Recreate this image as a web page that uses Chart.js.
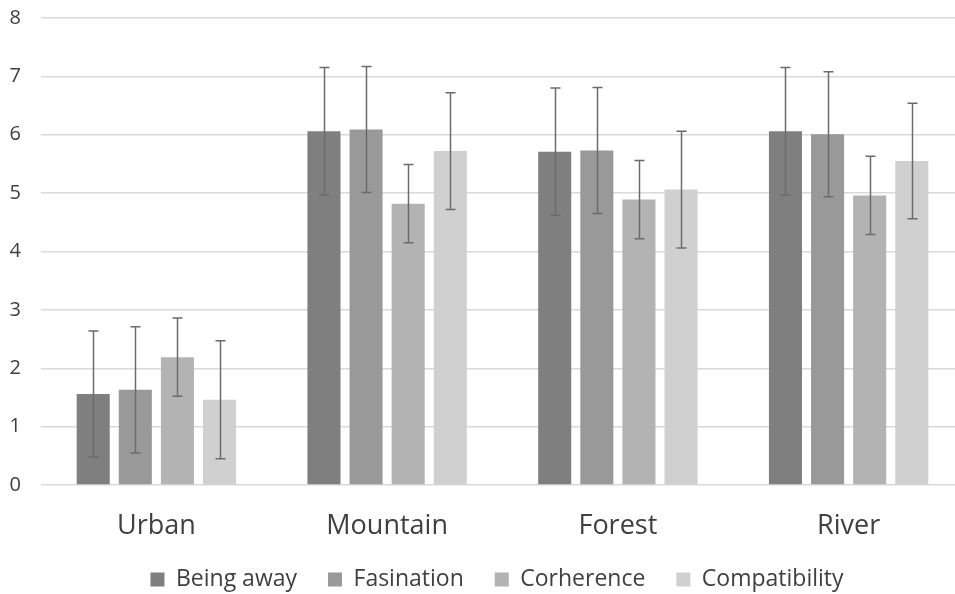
<!DOCTYPE html>
<html>
<head>
<meta charset="utf-8">
<script src="https://cdn.jsdelivr.net/npm/chart.js@4/dist/chart.umd.min.js"></script>
<style>
  html, body { margin: 0; padding: 0; background: #fff; overflow: hidden; }
  #wrap { width: 964px; height: 594px; position: relative; }
</style>
</head>
<body>
<div id="wrap"><canvas id="chart"></canvas></div>
<script>
// 데이터
const categories = ['Urban', 'Mountain', 'Forest', 'River'];
const seriesNames = ['Being away', 'Fasination', 'Corherence', 'Compatibility'];
const beingAway = [1.56, 6.06, 5.71, 6.06];
const fasination = [1.63, 6.09, 5.73, 6.01];
const corherence = [2.19, 4.82, 4.89, 4.96];
const compatibility = [1.46, 5.72, 5.06, 5.55];
// 오차 막대 (±)
const errBeingAway = [1.08, 1.09, 1.09, 1.09];
const errFasination = [1.08, 1.08, 1.08, 1.07];
const errCorherence = [0.67, 0.67, 0.67, 0.67];
const errCompatibility = [1.01, 1.0, 1.0, 0.99];
const yTicks = [0, 1, 2, 3, 4, 5, 6, 7, 8];

const colors = ['#7f7f7f', '#999999', '#b3b3b3', '#d0d0d0'];
const values = [beingAway, fasination, corherence, compatibility];
const errors = [errBeingAway, errFasination, errCorherence, errCompatibility];

// 오차 막대 그리기 플러그인
const errorBarPlugin = {
  id: 'errorBars',
  afterDatasetsDraw(chart) {
    const ctx = chart.ctx;
    const y = chart.scales.y;
    ctx.save();
    ctx.strokeStyle = '#6b6b6b';
    ctx.lineWidth = 1.5;
    chart.data.datasets.forEach((ds, i) => {
      const meta = chart.getDatasetMeta(i);
      meta.data.forEach((bar, j) => {
        const v = ds.data[j];
        const e = errors[i][j];
        const top = y.getPixelForValue(v + e);
        const bot = y.getPixelForValue(v - e);
        const x = Math.round(bar.x) + 0.5;
        ctx.beginPath();
        ctx.moveTo(x, top);
        ctx.lineTo(x, bot);
        ctx.moveTo(x - 5, top);
        ctx.lineTo(x + 5, top);
        ctx.moveTo(x - 5, bot);
        ctx.lineTo(x + 5, bot);
        ctx.stroke();
      });
    });
    ctx.restore();
  }
};

// 범례 높이/위치 조정 (가로 간격은 넓게, 세로 공간은 좁게)
const legendFixPlugin = {
  id: 'legendFix',
  afterInit(chart) {
    const legend = chart.legend;
    if (!legend) return;
    const origFit = legend.fit;
    legend.fit = function () {
      origFit.call(this);
      this.height = 51;
    };
  },
  afterLayout(chart) {
    const legend = chart.legend;
    if (!legend) return;
    legend.top -= 6;
    legend.left += 15;
    legend.right += 15;
  }
};

const ctx = document.getElementById('chart').getContext('2d');
new Chart(ctx, {
  type: 'bar',
  data: {
    labels: categories,
    datasets: seriesNames.map((name, i) => ({
      label: name,
      data: values[i],
      backgroundColor: colors[i],
      borderWidth: 0,
      categoryPercentage: 0.73,
      barPercentage: 0.785
    }))
  },
  options: {
    responsive: true,
    maintainAspectRatio: false,
    animation: false,
    layout: { padding: { top: 18, right: 0, left: 0, bottom: 0 } },
    scales: {
      x: {
        grid: { display: false },
        border: { display: false },
        ticks: { color: '#404040', font: { family: 'Open Sans', size: 27 }, padding: 17 },
        afterFit: (s) => { s.height = 58; s.paddingLeft = 0; s.paddingRight = 0; }
      },
      y: {
        min: 0,
        max: 8,
        afterBuildTicks: (axis) => { axis.ticks = yTicks.map(v => ({ value: v })); },
        afterFit: (s) => { s.width = 41; s.paddingTop = 0; s.paddingBottom = 0; },
        grid: { color: '#d9d9d9', lineWidth: 1.5, drawTicks: false },
        border: { display: false },
        ticks: { color: '#404040', font: { family: 'Open Sans', size: 20 }, padding: 20 }
      }
    },
    plugins: {
      legend: {
        position: 'bottom',
        labels: {
          color: '#404040',
          font: { family: 'Open Sans', size: 23 },
          boxWidth: 14,
          boxHeight: 14,
          padding: 31
        }
      },
      tooltip: { enabled: false }
    }
  },
  plugins: [errorBarPlugin, legendFixPlugin]
});
</script>
</body>
</html>
